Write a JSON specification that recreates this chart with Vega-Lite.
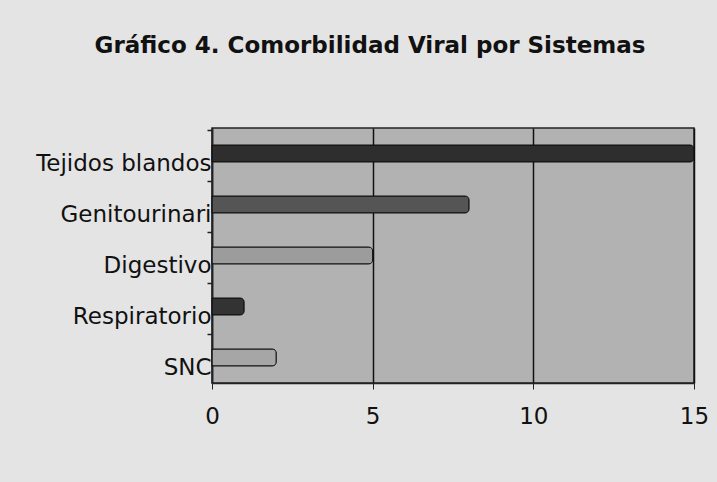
{
  "$schema": "https://vega.github.io/schema/vega-lite/v6.json",
  "autosize": "none",
  "width": 482,
  "height": 255,
  "padding": {"left": 212, "top": 128, "right": 23, "bottom": 99},
  "background": "#e4e4e4",
  "title": {
    "text": "Gráfico 4. Comorbilidad Viral por Sistemas",
    "font": "DejaVu Sans",
    "fontSize": 23,
    "fontWeight": "bold",
    "color": "#111111",
    "anchor": "middle",
    "dx": -83,
    "offset": 70
  },
  "config": {
    "view": {"fill": "#b2b2b2", "stroke": "#222222", "strokeWidth": 1.5},
    "axis": {"labelFont": "DejaVu Sans", "labelColor": "#111111", "domainColor": "#222222", "tickColor": "#222222", "domainWidth": 1.5}
  },
  "data": {
    "values": [
      {"sistema": "Tejidos blandos", "casos": 15},
      {"sistema": "Genitourinari", "casos": 8},
      {"sistema": "Digestivo", "casos": 5},
      {"sistema": "Respiratorio", "casos": 1},
      {"sistema": "SNC", "casos": 2}
    ]
  },
  "mark": {"type": "bar", "height": 17, "cornerRadiusEnd": 4, "stroke": "#111111", "strokeWidth": 1},
  "encoding": {
    "y": {
      "field": "sistema",
      "type": "nominal",
      "sort": ["Tejidos blandos", "Genitourinari", "Digestivo", "Respiratorio", "SNC"],
      "axis": {"title": null, "labelFontSize": 23, "labelPadding": -4, "ticks": true, "tickSize": 5, "tickWidth": 1.5, "bandPosition": 0, "labelOffset": 10, "domain": true}
    },
    "x": {
      "field": "casos",
      "type": "quantitative",
      "scale": {"domain": [0, 15], "nice": false},
      "axis": {"title": null, "values": [0, 5, 10, 15], "labelFlush": false, "labelFontSize": 23, "labelPadding": 16, "tickSize": 6, "grid": true, "gridColor": "#111111", "gridWidth": 1.5}
    },
    "color": {
      "field": "sistema",
      "type": "nominal",
      "scale": {
        "domain": ["Tejidos blandos", "Genitourinari", "Digestivo", "Respiratorio", "SNC"],
        "range": ["#2e2e2e", "#555555", "#9c9c9c", "#333333", "#a6a6a6"]
      },
      "legend": null
    }
  }
}
